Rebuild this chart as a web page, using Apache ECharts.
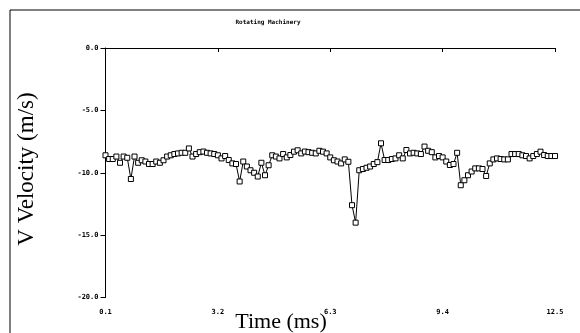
<!DOCTYPE html>
<html>
<head>
<meta charset="utf-8">
<script src="https://cdn.jsdelivr.net/npm/echarts@6/dist/echarts.min.js"></script>
<style>html,body{margin:0;padding:0;background:#fff;}#c{width:580px;height:333px;}</style>
</head>
<body>
<div id="c"></div>
<script>
var chartTitle = 'Rotating Machinery';
var xName = 'Time (ms)';
var yName = 'V Velocity (m/s)';
var xTicks = [0.1, 3.2, 6.3, 9.4, 12.5];
var yTicks = [0, -5, -10, -15, -20];
var times = [
 0.1,0.2,0.3,0.4,0.5,0.6,0.7,0.8,0.9,1.0,
 1.1,1.2,1.3,1.4,1.5,1.6,1.7,1.8,1.9,2.0,
 2.1,2.2,2.3,2.4,2.5,2.6,2.7,2.8,2.9,3.0,
 3.1,3.2,3.3,3.4,3.5,3.6,3.7,3.8,3.9,4.0,
 4.1,4.2,4.3,4.4,4.5,4.6,4.7,4.8,4.9,5.0,
 5.1,5.2,5.3,5.4,5.5,5.6,5.7,5.8,5.9,6.0,
 6.1,6.2,6.3,6.4,6.5,6.6,6.7,6.8,6.9,7.0,
 7.1,7.2,7.3,7.4,7.5,7.6,7.7,7.8,7.9,8.0,
 8.1,8.2,8.3,8.4,8.5,8.6,8.7,8.8,8.9,9.0,
 9.1,9.2,9.3,9.4,9.5,9.6,9.7,9.8,9.9,10.0,
 10.1,10.2,10.3,10.4,10.5,10.6,10.7,10.8,10.9,11.0,
 11.1,11.2,11.3,11.4,11.5,11.6,11.7,11.8,11.9,12.0,
 12.1,12.2,12.3,12.4,12.5
];
var velocity = [
 -8.6,-8.9,-8.9,-8.7,-9.2,-8.7,-8.8,-10.5,-8.7,-9.2,
 -9.0,-9.1,-9.3,-9.3,-9.1,-9.2,-9.0,-8.7,-8.6,-8.5,
 -8.45,-8.4,-8.4,-8.05,-8.7,-8.5,-8.35,-8.3,-8.4,-8.45,
 -8.5,-8.6,-8.85,-8.66,-8.98,-9.25,-9.3,-10.7,-9.1,-9.5,
 -9.8,-10.0,-10.3,-9.2,-10.2,-9.4,-8.6,-8.7,-8.85,-8.5,
 -8.77,-8.58,-8.31,-8.2,-8.45,-8.3,-8.35,-8.4,-8.45,-8.24,
 -8.31,-8.45,-8.77,-9.0,-9.1,-9.25,-8.93,-9.12,-12.6,-14.0,
 -9.8,-9.7,-9.6,-9.5,-9.3,-9.15,-7.64,-8.98,-8.98,-8.9,
 -8.85,-8.6,-8.85,-8.18,-8.45,-8.4,-8.45,-8.5,-7.9,-8.24,
 -8.35,-8.77,-8.66,-8.77,-9.1,-9.38,-9.3,-8.4,-11.0,-10.6,
 -10.2,-9.9,-9.65,-9.65,-9.7,-10.26,-9.25,-8.93,-8.85,-8.9,
 -8.93,-8.93,-8.5,-8.5,-8.5,-8.6,-8.66,-8.85,-8.66,-8.5,
 -8.31,-8.58,-8.66,-8.66,-8.66
];

var points = times.map(function (t, i) { return [t, velocity[i]]; });
var labelFont = {color: '#000', fontSize: 7, fontWeight: 'bold', fontFamily: 'DejaVu Sans Mono'};

var chart = echarts.init(document.getElementById('c'), null, {renderer: 'canvas'});
chart.setOption({
  animation: false,
  backgroundColor: '#fff',
  title: {
    text: chartTitle, left: 268, top: 19, padding: 0, textAlign: 'center',
    textStyle: {color: '#000', fontSize: 6, fontWeight: 'bold', fontFamily: 'DejaVu Sans Mono'}
  },
  grid: {left: 105.5, right: 25, top: 48, bottom: 35.5, containLabel: false},
  xAxis: {
    type: 'value', min: xTicks[0], max: xTicks[xTicks.length - 1],
    axisLine: {show: true, lineStyle: {color: '#000', width: 1}},
    axisTick: {show: true, inside: false, length: 4, customValues: xTicks, lineStyle: {color: '#000'}},
    axisLabel: Object.assign({margin: 11, customValues: xTicks, formatter: function (v) { return v.toFixed(1); }}, labelFont),
    splitLine: {show: false}
  },
  yAxis: {
    type: 'value', min: -20, max: 0, interval: 5,
    axisLine: {show: true, lineStyle: {color: '#000', width: 1}},
    axisTick: {show: true, inside: false, length: 5, lineStyle: {color: '#000'}},
    axisLabel: Object.assign({margin: 7, formatter: function (v) { return v.toFixed(1); }}, labelFont),
    splitLine: {show: false}
  },
  graphic: [
    {type: 'line', shape: {x1: 10, y1: 10, x2: 580, y2: 10}, style: {stroke: '#000', lineWidth: 1}},
    {type: 'line', shape: {x1: 10, y1: 10, x2: 10, y2: 333}, style: {stroke: '#000', lineWidth: 1}},
    {type: 'text', x: 281, y: 322, style: {text: xName, fill: '#000', font: '22px "Liberation Serif"', textAlign: 'center', textVerticalAlign: 'middle'}},
    {type: 'text', x: 27, y: 169, rotation: Math.PI / 2, style: {text: yName, fill: '#000', font: '23px "Liberation Serif"', textAlign: 'center', textVerticalAlign: 'middle'}}
  ],
  series: [{
    type: 'line', data: points,
    symbol: 'rect', symbolSize: 5, showAllSymbol: true,
    lineStyle: {color: '#000', width: 1},
    itemStyle: {color: '#fff', borderColor: '#000', borderWidth: 1}
  }]
});
</script>
</body>
</html>
